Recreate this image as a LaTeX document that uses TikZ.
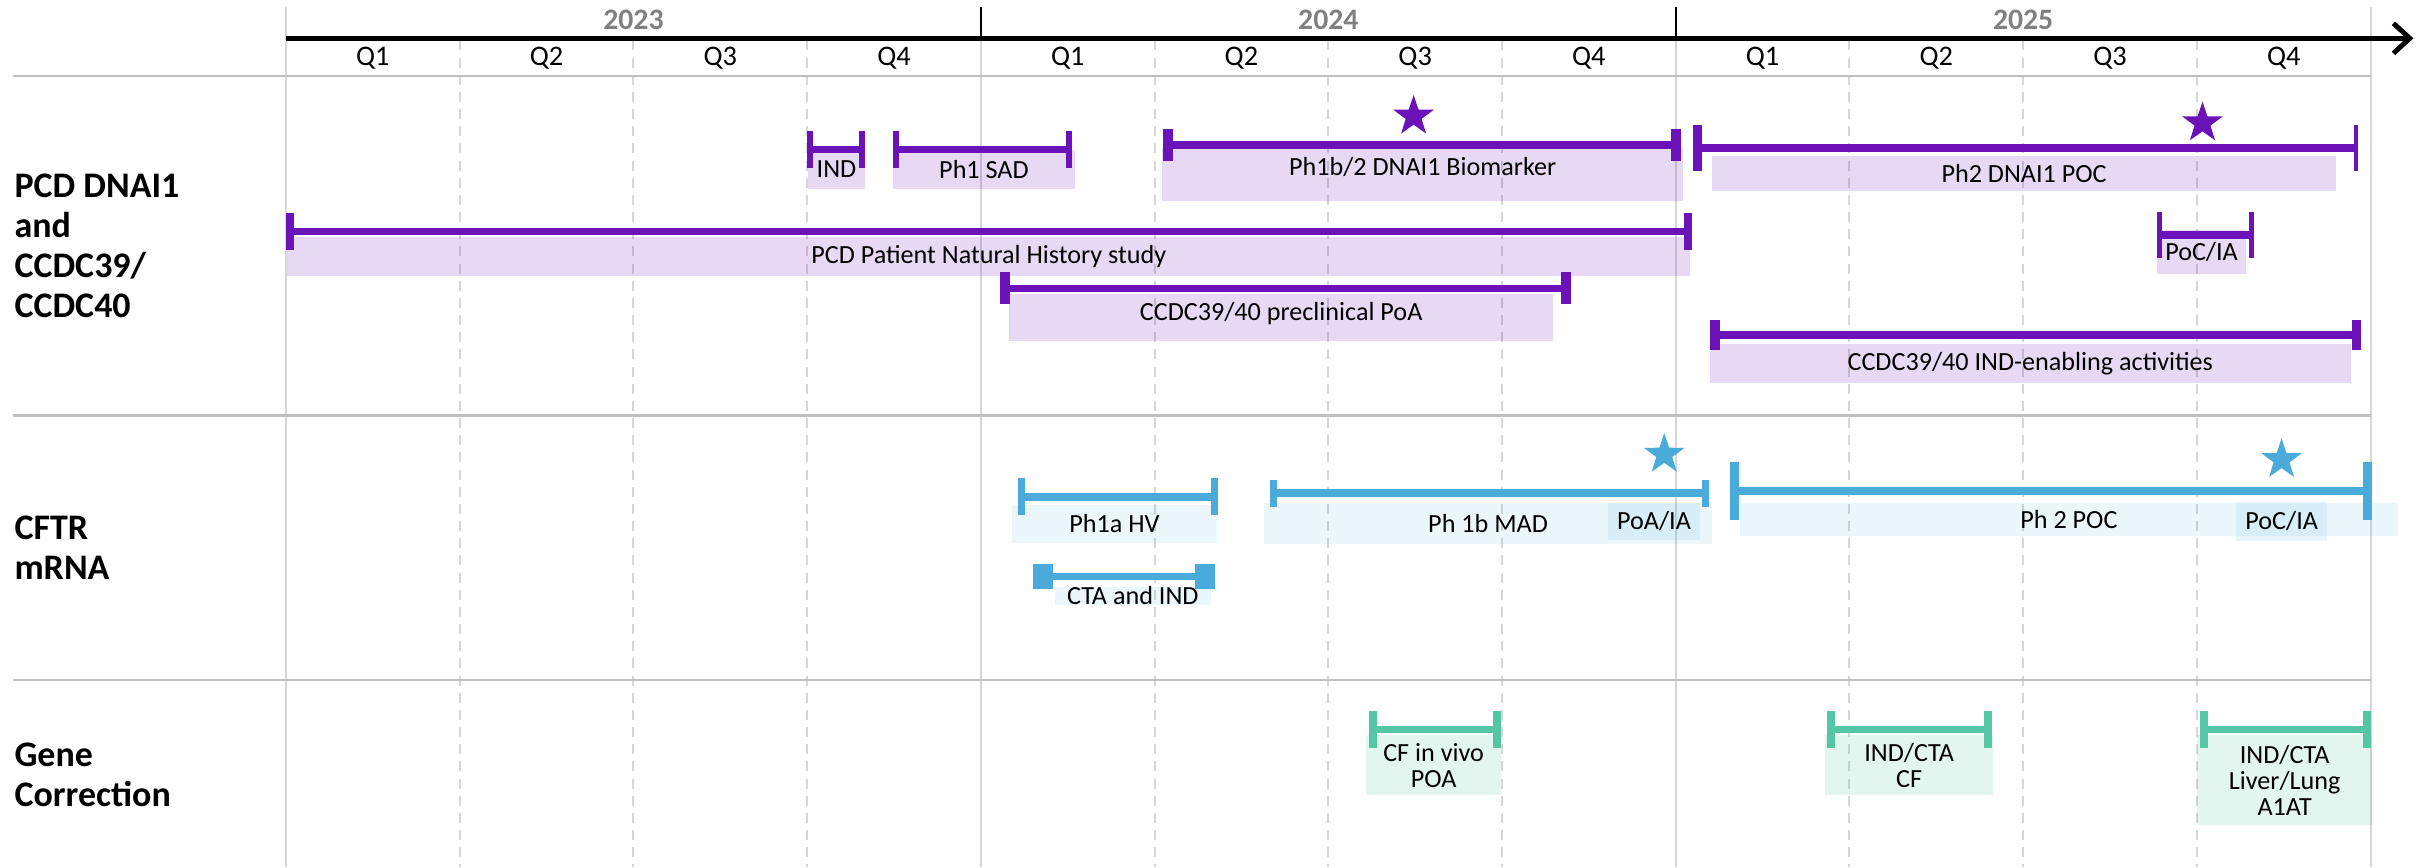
\documentclass[tikz,border=0pt]{standalone}
\usepackage{fontspec}
\setmainfont{Carlito}
\usepackage{tikz}
\usetikzlibrary{arrows.meta,positioning,shapes.geometric}

\definecolor{pcdpurple}{RGB}{107,19,184}
\definecolor{cftrblue}{RGB}{74,171,219}
\definecolor{genegreen}{RGB}{85,198,163}
\definecolor{gridgray}{RGB}{214,214,214}
\definecolor{rulegray}{RGB}{191,191,191}
\definecolor{yeargray}{RGB}{128,128,128}

\begin{document}
\begin{tikzpicture}[x=0.02cm, y=-0.02cm,
  yearlabel/.style={font=\fontsize{10.9}{12}\selectfont\bfseries, text=yeargray},
  qlabel/.style={font=\fontsize{10.4}{12}\selectfont},
  rowlabel/.style={anchor=north west, inner sep=0pt, align=left,
    font=\fontsize{13.2}{14.7}\selectfont\bfseries},
  gridline/.style={draw=gridgray, line width=0.75pt},
  qline/.style={draw=gridgray, line width=0.75pt, dash pattern=on 3.7pt off 2.6pt},
  rule/.style={draw=rulegray, line width=1pt},
  axis/.style={line width=1.8pt, -{Straight Barb[length=6pt,width=11pt]}},
  phase/.style={inner sep=0pt, align=center, fill opacity=#1, text opacity=1,
    font=\fontsize{9.6}{9.55}\selectfont},
  pbox/.style={phase=0.16, fill=pcdpurple},
  bbox/.style={phase=0.11, fill=cftrblue},
  gbox/.style={phase=0.17, fill=genegreen},
  pbar/.style={draw=pcdpurple, line width=2.7pt},
  bbar/.style={draw=cftrblue, line width=3pt},
  gbar/.style={draw=genegreen, line width=2.6pt},
  caps/.style 2 args={arrows={Bar[width=#1,line width=#2]-Bar[width=#1,line width=#2]}},
  milestone/.style={star, star points=5, star point ratio=2.55, minimum size=0.55cm,
    inner sep=0pt, draw=none, fill=#1}
]
\useasboundingbox (0,0) rectangle (1568,559);

% grid
\foreach \yx in {184.4,632.4,1080.4,1528.4}
  \draw[gridline] (\yx,24.7) -- (\yx,559);
\draw[gridline] (184.4,4.3) -- (184.4,24.7);
\draw[gridline] (1528.4,4.3) -- (1528.4,24.7);
\draw[line width=0.75pt] (632.4,4.3) -- (632.4,24.7);
\draw[line width=0.75pt] (1080.4,4.3) -- (1080.4,24.7);
\foreach \i in {0,1,2}
  \foreach \q in {1,2,3}
    \draw[qline] ({184.4+448*\i+112*\q},26) -- ({184.4+448*\i+112*\q},559);

\draw[rule] (8.6,49) -- (1528.4,49);
\draw[rule] (8.6,268) -- (1528.4,268);
\draw[rule] (8.6,438.4) -- (1528.4,438.4);

% time axis
\draw[axis] (184.4,24.7) -- (1556,24.7);
\foreach \yr [count=\i from 0] in {2023,2024,2025} {
  \node[yearlabel] (y\yr) at ({408.4+448*\i},12.9) {\yr};
  \foreach \q in {1,...,4}
    \node[qlabel] (q\yr\q) at ({128.4+448*\i+112*\q},37.6) {Q\q};
}

% programmes
\node[rowlabel] (pcdrow) at (9,111.6) {PCD DNAI1\\and\\CCDC39/\\CCDC40};
\node[rowlabel] (cftrrow) at (9,332.2) {CFTR\\mRNA};
\node[rowlabel] (generow) at (9,478.4) {Gene\\Correction};

% PCD DNAI1 and CCDC39/CCDC40
\node[pbox, minimum width=0.742cm, minimum height=0.5cm] (ind) at (539.3,109.2) {IND};
\node[pbox, minimum width=2.344cm, minimum height=0.5cm] (sad) at (634.4,109.2) {Ph1 SAD};
\node[pbox, minimum width=6.714cm, minimum height=0.676cm, text height=6.8pt,
  text depth=6.1pt] (biomarker) at (917.2,112.5) {Ph1b/2 DNAI1 Biomarker};
\node[pbox, minimum width=8.04cm, minimum height=0.448cm] (dnaipoc) at (1305,111.8) {Ph2 DNAI1 POC};
\node[pbox, minimum width=18.1cm, minimum height=0.508cm] (natural) at (637.5,165.3)
  {PCD Patient Natural History study};
\node[pbox, minimum width=1.144cm, minimum height=0.572cm] (pocia) at (1419.4,162.6) {PoC/IA};
\node[pbox, minimum width=7.01cm, minimum height=0.606cm, text height=6.8pt,
  text depth=4.8pt] (preclin) at (826,204.9) {CCDC39/40 preclinical PoA};
\node[pbox, minimum width=8.26cm, minimum height=0.498cm] (indenable) at (1309,234.3)
  {CCDC39/40 IND-enabling activities};

\draw[pbar, caps={13.7pt}{2.3pt}] (520,96.2) -- (558,96.2);
\draw[pbar, caps={13.7pt}{2.3pt}] (575.8,96.2) -- (691,96.2);
\draw[pbar, caps={12pt}{3.7pt}] (749.5,93.5) -- (1084,93.5);
\draw[pbar, {Bar[width=16.7pt,line width=3.4pt]}-{Bar[width=17pt,line width=1.5pt]}]
  (1091.6,95.5) -- (1520.5,95.5);
\draw[pbar, caps={13.6pt}{3pt}] (184.4,149.4) -- (1091,149.4);
\draw[pbar, caps={17pt}{1.8pt}] (1390.8,151.5) -- (1453,151.5);
\draw[pbar, caps={11.7pt}{3.7pt}] (644.8,185.9) -- (1012.7,185.9);
\draw[pbar, caps={10.8pt}{3.5pt}] (1102.5,216) -- (1522.4,216);

\node[milestone=pcdpurple] (starbio) at (911.4,75) {};
\node[milestone=pcdpurple] (starpoc) at (1420,79.3) {};

% CFTR mRNA
\node[bbox, minimum width=2.638cm, minimum height=0.486cm] (hv) at (718.5,337.8) {Ph1a HV};
\node[bbox, minimum width=5.784cm, minimum height=0.53cm] (mad) at (959.4,337.3) {Ph 1b MAD};
\node[bbox, fill opacity=0.12, minimum width=1.184cm, minimum height=0.48cm] (poamad)
  at (1066.4,336) {PoA/IA};
\node[bbox, minimum width=8.486cm, minimum height=0.432cm] (ph2poc) at (1333.9,334.8) {Ph 2 POC};
\node[bbox, fill opacity=0.12, minimum width=1.176cm, minimum height=0.502cm] (pocph2)
  at (1471.1,336) {PoC/IA};
\node[bbox, minimum width=2.016cm, minimum height=0.236cm] (ctaind) at (730.4,384.1) {CTA and IND};

\draw[bbar, caps={13.5pt}{2.6pt}] (656.5,320.2) -- (785.5,320.2);
\draw[bbar, caps={9.8pt}{2.6pt}] (818.5,318) -- (1102,318);
\draw[bbar, caps={21.4pt}{3.2pt}] (1115.5,316.6) -- (1529,316.6);
\draw[bbar, line width=2.4pt, {Square[length=7.4pt,width=9.4pt]}-{Square[length=7.4pt,width=9.4pt]}]
  (665.8,371.8) -- (783.4,371.8);

\node[milestone=cftrblue] (starmad) at (1073,293) {};
\node[milestone=cftrblue] (starph2) at (1471,296.4) {};

% Gene Correction
\node[gbox, minimum width=1.732cm, minimum height=0.774cm] (cfvivo) at (924.3,493.3) {CF in vivo\\POA};
\node[gbox, minimum width=2.166cm, minimum height=0.774cm] (indcf) at (1230.9,493.3) {IND/CTA\\CF};
\node[gbox, minimum width=2.25cm, minimum height=1.16cm] (alat) at (1473,502.9)
  {IND/CTA\\Liver/Lung\\A1AT};

\draw[gbar, caps={13.5pt}{2.9pt}] (882.4,470.2) -- (967.6,470.2);
\draw[gbar, caps={13.5pt}{2.9pt}] (1178,470.2) -- (1284.1,470.2);
\draw[gbar, caps={13.5pt}{2.9pt}] (1418.2,470.2) -- (1528.6,470.2);
\end{tikzpicture}
\end{document}
